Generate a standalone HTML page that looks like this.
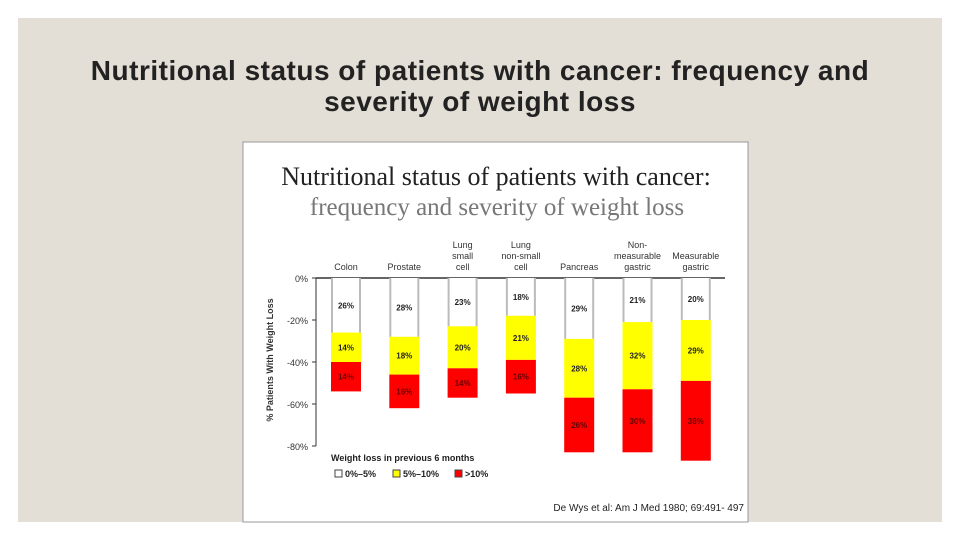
<!DOCTYPE html>
<html><head><meta charset="utf-8"><style>
body{margin:0;width:960px;height:540px;background:#fff;position:relative;overflow:hidden;font-family:"Liberation Sans",sans-serif}
#slide{position:absolute;left:18px;top:18px;width:924px;height:504px;background:#e4dfd6}
#title{position:absolute;left:0;top:55px;width:960px;text-align:center;font-size:28px;font-weight:bold;letter-spacing:0.5px;line-height:31px;color:#222}
</style></head><body>
<div id="slide"></div>
<div id="title">Nutritional status of patients with cancer: frequency and<br>severity of weight loss</div>
<svg id="chart" width="960" height="540" style="position:absolute;left:0;top:0"></svg>
<script>
const categories=[["Colon"],["Prostate"],["Lung","small","cell"],["Lung","non-small","cell"],["Pancreas"],["Non-","measurable","gastric"],["Measurable","gastric"]];
const lowLoss=[26,28,23,18,29,21,20];
const midLoss=[14,18,20,21,28,32,29];
const highLoss=[14,16,14,16,26,30,38];
const yTicks=[0,-20,-40,-60,-80];
const NS="http://www.w3.org/2000/svg";
const svg=document.getElementById('chart');
function el(t,a,txt){const e=document.createElementNS(NS,t);for(const k in a)e.setAttribute(k,a[k]);if(txt!=null)e.textContent=txt;svg.appendChild(e);return e;}
const y0=278,pxPer=2.1;
const yS=v=>y0-v*pxPer;
const xS=i=>331+i*58.3;
const bw=30;
let e;
e=el('rect',{x:243,y:142,width:505,height:380,fill:'#fff',stroke:'#999'});


e=el('text',{x:496,y:185,'text-anchor':'middle','font-family':'Liberation Serif, serif','font-size':26,fill:'#222'},'Nutritional status of patients with cancer:');


e=el('text',{x:497,y:215,'text-anchor':'middle','font-family':'Liberation Serif, serif','font-size':25,fill:'#777'},'frequency and severity of weight loss');


e=el('line',{x1:316,y1:y0,x2:725,y2:y0,stroke:'#333','stroke-width':1.5});


e=el('line',{x1:316,y1:y0,x2:316,y2:yS(-80),stroke:'#333','stroke-width':1});


yTicks.forEach(t=>{
 e=el('text',{x:308,y:yS(t)+4,'text-anchor':'end','font-size':9,fill:'#333'},t+'%');
 
 
 e=el('line',{x1:312,y1:yS(t),x2:316,y2:yS(t),stroke:'#333'});
 
 
});
e=el('text',{x:273,y:360,'text-anchor':'middle','font-size':9,'font-weight':'bold',fill:'#333',transform:'rotate(-90 273 360)'},'% Patients With Weight Loss');


categories.forEach((c,i)=>{
 const x=xS(i),cx=x+bw/2;
 c.forEach((ln,j)=>{
  e=el('text',{x:cx,y:y0-8-(c.length-1-j)*11,'text-anchor':'middle','font-size':9,fill:'#333'},ln);
  
  
 });
 const segs=[[0,lowLoss[i],'#ffffff','#222'],[lowLoss[i],lowLoss[i]+midLoss[i],'#ffff00','#222'],[lowLoss[i]+midLoss[i],lowLoss[i]+midLoss[i]+highLoss[i],'#ff0000','#660000']];
 const vals=[lowLoss[i],midLoss[i],highLoss[i]];
 const names=['bar-low-loss','bar-mid-loss','bar-high-loss'];
 segs.forEach((s,k)=>{
  const ya=yS(-s[0]),yb=yS(-s[1]);
  e=el('rect',{x:x,y:ya,width:bw,height:yb-ya,fill:s[2]});
  
  
  if(k===0){
   el('line',{x1:x+1,y1:ya,x2:x+1,y2:yb,stroke:'#bbb','stroke-width':2});
   el('line',{x1:x+bw-1,y1:ya,x2:x+bw-1,y2:yb,stroke:'#bbb','stroke-width':2});
  }
  e=el('text',{x:cx,y:(ya+yb)/2+3,'text-anchor':'middle','font-size':8,'font-weight':'bold',fill:s[3]},vals[k]+'%');
  
  
 });
});
e=el('text',{x:331,y:461,'font-size':9,'font-weight':'bold',fill:'#222'},'Weight loss in previous 6 months');


[['#fff','0%–5%',335],['#ff0','5%–10%',393],['#f00','>10%',455]].forEach(l=>{
 e=el('rect',{x:l[2],y:470,width:7,height:7,fill:l[0],stroke:'#444'});
 
 
 e=el('text',{x:l[2]+10,y:477,'font-size':9,'font-weight':'bold',fill:'#222'},l[1]);
 
 
});
e=el('text',{x:744,y:511,'text-anchor':'end','font-size':10,fill:'#222'},'De Wys et al: Am J Med 1980; 69:491- 497');


</script>
</body></html>
